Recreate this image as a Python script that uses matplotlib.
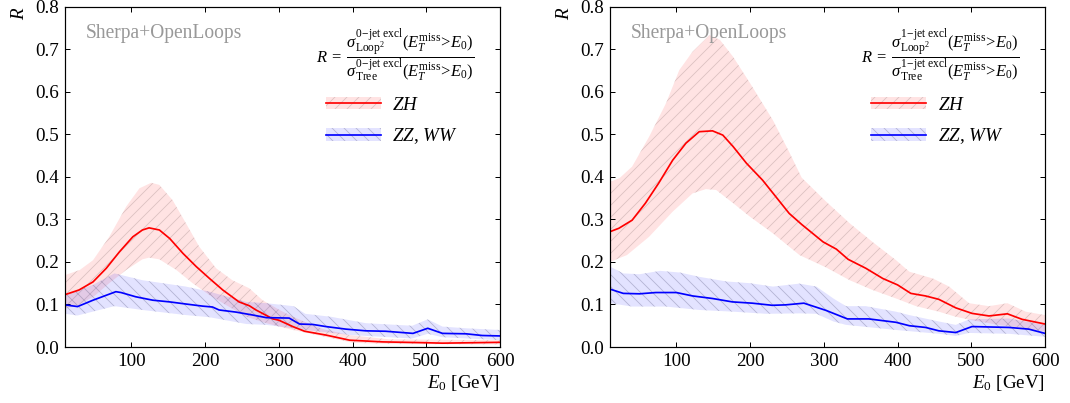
import numpy as np
import matplotlib
matplotlib.use("Agg")
import matplotlib.pyplot as plt
from matplotlib.patches import Patch
from matplotlib.lines import Line2D

# ---------------- data ----------------
# Left panel: 0-jet exclusive
L_zh_x = [10, 29, 48, 66, 84, 102, 115, 124, 138, 152, 170, 188, 206, 224, 246, 260, 269, 292, 300, 319, 335, 364, 396, 441, 500, 522, 600]
L_zh_y = [0.123, 0.134, 0.153, 0.185, 0.224, 0.259, 0.275, 0.280, 0.275, 0.255, 0.220, 0.189, 0.161, 0.134, 0.106, 0.097, 0.087, 0.066, 0.063, 0.048, 0.037, 0.028, 0.016, 0.012, 0.010, 0.009, 0.011]
L_zh_up_x = [10, 30, 48, 70, 93, 111, 127, 138, 156, 174, 192, 215, 237, 260, 278, 301, 319, 341, 360, 396, 450, 600]
L_zh_up_y = [0.169, 0.181, 0.204, 0.259, 0.330, 0.373, 0.386, 0.381, 0.345, 0.291, 0.236, 0.185, 0.157, 0.138, 0.110, 0.087, 0.071, 0.055, 0.042, 0.028, 0.018, 0.016]
L_zh_lo_x = [10, 30, 50, 70, 93, 115, 124, 138, 161, 183, 206, 228, 256, 283, 319, 341, 400, 450, 600]
L_zh_lo_y = [0.090, 0.100, 0.120, 0.150, 0.181, 0.206, 0.210, 0.206, 0.181, 0.150, 0.122, 0.099, 0.071, 0.056, 0.040, 0.032, 0.010, 0.007, 0.006]

L_vv_x = [10, 27, 48, 79, 86, 106, 129, 152, 174, 197, 210, 219, 242, 265, 283, 314, 328, 346, 364, 391, 418, 445, 482, 502, 522, 554, 576, 600]
L_vv_y = [0.099, 0.095, 0.110, 0.130, 0.128, 0.118, 0.110, 0.106, 0.101, 0.096, 0.094, 0.087, 0.082, 0.075, 0.069, 0.068, 0.054, 0.053, 0.048, 0.042, 0.038, 0.037, 0.032, 0.044, 0.032, 0.031, 0.027, 0.026]
L_vv_up_x = [10, 48, 77, 115, 174, 206, 256, 283, 320, 336, 371, 418, 481, 502, 522, 554, 600]
L_vv_up_y = [0.122, 0.146, 0.173, 0.157, 0.142, 0.130, 0.106, 0.103, 0.096, 0.078, 0.071, 0.056, 0.050, 0.065, 0.048, 0.044, 0.040]
L_vv_lo_x = [10, 27, 77, 115, 174, 206, 256, 283, 319, 336, 398, 481, 502, 522, 600]
L_vv_lo_y = [0.078, 0.074, 0.096, 0.087, 0.075, 0.070, 0.054, 0.052, 0.044, 0.040, 0.028, 0.020, 0.031, 0.023, 0.016]

# Right panel: 1-jet exclusive
R_zh_x = [10, 22, 40, 58, 76, 95, 113, 131, 149, 163, 177, 195, 217, 235, 253, 270, 299, 317, 333, 357, 380, 400, 418, 438, 456, 479, 501, 524, 549, 569, 600]
R_zh_y = [0.271, 0.279, 0.298, 0.338, 0.385, 0.439, 0.479, 0.506, 0.508, 0.498, 0.471, 0.432, 0.392, 0.353, 0.314, 0.288, 0.247, 0.230, 0.206, 0.185, 0.161, 0.146, 0.126, 0.120, 0.112, 0.092, 0.079, 0.073, 0.078, 0.065, 0.054]
R_zh_up_x = [10, 23, 40, 63, 86, 104, 122, 145, 159, 177, 200, 231, 254, 270, 303, 335, 366, 398, 416, 448, 470, 497, 524, 549, 574, 600]
R_zh_up_y = [0.388, 0.397, 0.424, 0.494, 0.573, 0.651, 0.694, 0.733, 0.722, 0.682, 0.620, 0.533, 0.455, 0.398, 0.342, 0.291, 0.247, 0.204, 0.177, 0.161, 0.142, 0.103, 0.096, 0.103, 0.083, 0.075]
R_zh_lo_x = [10, 33, 63, 95, 122, 140, 154, 177, 200, 231, 267, 303, 335, 366, 398, 425, 456, 479, 501, 537, 574, 600]
R_zh_lo_y = [0.200, 0.216, 0.259, 0.318, 0.361, 0.371, 0.369, 0.338, 0.306, 0.267, 0.216, 0.187, 0.157, 0.134, 0.114, 0.096, 0.083, 0.071, 0.063, 0.052, 0.044, 0.036]

R_vv_x = [10, 28, 50, 72, 100, 122, 149, 176, 203, 230, 248, 273, 303, 332, 361, 398, 416, 438, 456, 479, 501, 551, 578, 600]
R_vv_y = [0.136, 0.126, 0.125, 0.128, 0.128, 0.120, 0.114, 0.106, 0.103, 0.098, 0.099, 0.103, 0.086, 0.066, 0.066, 0.058, 0.050, 0.046, 0.038, 0.034, 0.048, 0.046, 0.042, 0.032]
R_vv_up_x = [10, 28, 50, 78, 105, 131, 168, 200, 231, 267, 290, 313, 330, 357, 398, 416, 456, 479, 497, 551, 600]
R_vv_up_y = [0.189, 0.173, 0.171, 0.179, 0.175, 0.165, 0.154, 0.150, 0.142, 0.149, 0.142, 0.114, 0.096, 0.096, 0.083, 0.075, 0.060, 0.052, 0.065, 0.067, 0.052]
R_vv_lo_x = [10, 40, 86, 131, 177, 222, 267, 290, 313, 330, 398, 456, 479, 497, 551, 600]
R_vv_lo_y = [0.103, 0.095, 0.095, 0.087, 0.083, 0.078, 0.079, 0.078, 0.060, 0.052, 0.040, 0.031, 0.026, 0.033, 0.031, 0.024]

xticks = [100, 200, 300, 400, 500, 600]
yticks = [0.0, 0.1, 0.2, 0.3, 0.4, 0.5, 0.6, 0.7, 0.8]
labels = [r"$ZH$", r"$ZZ,\,WW$"]
jets = ["0", "1"]

# ---------------- style ----------------
plt.rcParams["font.family"] = ["Liberation Serif", "DejaVu Serif"]
plt.rcParams["mathtext.fontset"] = "custom"
plt.rcParams["mathtext.rm"] = "Liberation Serif"
plt.rcParams["mathtext.it"] = "Liberation Serif:italic"
plt.rcParams["mathtext.bf"] = "Liberation Serif:bold"
plt.rcParams["hatch.linewidth"] = 0.8

RED_FACE = (1.0, 0.0, 0.0, 0.11)
RED_HATCH = (0.45, 0.35, 0.35, 0.25)
BLUE_FACE = (0.0, 0.0, 1.0, 0.11)
BLUE_HATCH = (0.3, 0.3, 0.45, 0.32)
FS = 19

DPI = 72
fig = plt.figure(figsize=(1070 / DPI, 403 / DPI), dpi=DPI)

W = 435 / 1070
H = 340.4 / 403
B = 56 / 403
axL = fig.add_axes([65 / 1070, B, W, H])
axR = fig.add_axes([610 / 1070, B, W, H])

panels = [
    (axL, L_zh_x, L_zh_y, L_zh_up_x, L_zh_up_y, L_zh_lo_x, L_zh_lo_y,
     L_vv_x, L_vv_y, L_vv_up_x, L_vv_up_y, L_vv_lo_x, L_vv_lo_y, jets[0]),
    (axR, R_zh_x, R_zh_y, R_zh_up_x, R_zh_up_y, R_zh_lo_x, R_zh_lo_y,
     R_vv_x, R_vv_y, R_vv_up_x, R_vv_up_y, R_vv_lo_x, R_vv_lo_y, jets[1]),
]


def band(ax, xu, yu, xl, yl, face, hatchc, hatch):
    xs = np.concatenate([np.asarray(xu), np.asarray(xl)[::-1]])
    ys = np.concatenate([np.asarray(yu), np.asarray(yl)[::-1]])
    ax.fill(xs, ys, facecolor=face, edgecolor=hatchc, hatch=hatch, linewidth=0)


for (ax, zx, zy, zux, zuy, zlx, zly, vx, vy, vux, vuy, vlx, vly, nj) in panels:
    band(ax, zux, zuy, zlx, zly, RED_FACE, RED_HATCH, "//")
    band(ax, vux, vuy, vlx, vly, BLUE_FACE, BLUE_HATCH, "\\\\")
    ax.plot(zx, zy, color="red", lw=1.7)
    ax.plot(vx, vy, color="blue", lw=1.7)

    ax.set_xlim(10, 600)
    ax.set_ylim(0, 0.8)
    ax.set_xticks(xticks)
    ax.set_yticks(yticks)
    ax.set_yticklabels([f"{v:.1f}" for v in yticks])
    ax.tick_params(direction="in", top=True, right=True, length=5, width=1,
                   labelsize=FS, pad=6)
    for s in ax.spines.values():
        s.set_linewidth(1.2)

    ax.set_ylabel(r"$R$", loc="top", fontsize=FS, labelpad=7)
    ax.set_xlabel(r"$E_0$ [GeV]", loc="right", fontsize=FS, labelpad=3)

    ax.text(0.048, 0.922, "Sherpa+OpenLoops", transform=ax.transAxes,
            color="#999999", fontsize=19.5, ha="left", va="center")

    formula = (r"$R\;=\;\dfrac{\sigma^{%s{-}\mathrm{jet\ excl}}_{\mathrm{Loop}^2}"
               r"(E_T^{\mathrm{miss}}\!>\!E_0)}"
               r"{\sigma^{%s{-}\mathrm{jet\ excl}}_{\mathrm{Tree}}"
               r"(E_T^{\mathrm{miss}}\!>\!E_0)}$") % (nj, nj)
    ax.text(0.94, 0.858, formula, transform=ax.transAxes, fontsize=16.5,
            ha="right", va="center")

    h_zh = (Patch(facecolor=RED_FACE, edgecolor=RED_HATCH, hatch="//", linewidth=0),
            Line2D([], [], color="red", lw=1.7))
    h_vv = (Patch(facecolor=BLUE_FACE, edgecolor=BLUE_HATCH, hatch="\\\\", linewidth=0),
            Line2D([], [], color="blue", lw=1.7))
    ax.legend([h_zh, h_vv], labels, loc="upper left",
              bbox_to_anchor=(0.6, 0.735), frameon=False, fontsize=FS,
              handlelength=2.9, handleheight=0.65, handletextpad=0.6,
              labelspacing=0.65, borderpad=0, borderaxespad=0)

fig.savefig("out.png", dpi=DPI)
